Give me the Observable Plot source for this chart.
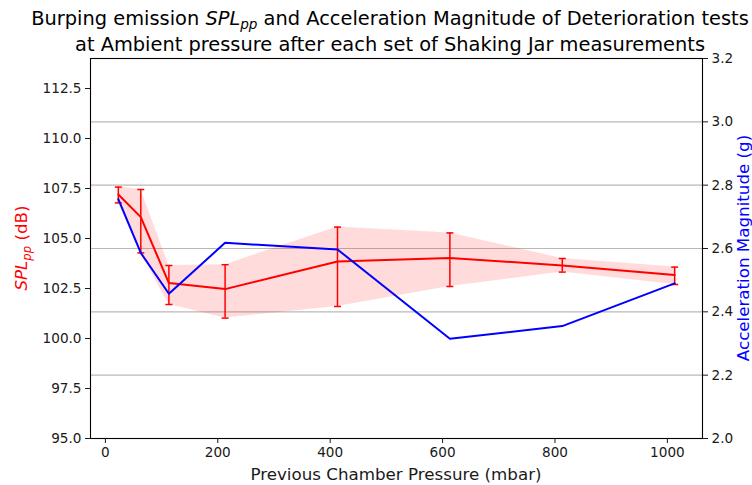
<!DOCTYPE html>
<html><head><meta charset="utf-8">
<script src="https://cdn.jsdelivr.net/npm/d3@7"></script>
<script src="https://cdn.jsdelivr.net/npm/@observablehq/plot@0.6"></script>
<style>body{margin:0;background:#fff;} svg{display:block;}</style>
</head><body><div id="chart"></div>
<script>
// ---- data ----
const pressure  = [23, 63, 113, 213, 413, 613, 813, 1013];
const splMean   = [107.2, 106.07, 102.77, 102.47, 103.85, 104.03, 103.65, 103.17];
const splLower  = [106.78, 104.28, 101.7, 101.02, 101.6, 102.6, 103.32, 102.7];
const splUpper  = [107.57, 107.45, 103.65, 103.69, 105.57, 105.28, 104.0, 103.57];
const accel     = [2.756, 2.586, 2.457, 2.618, 2.597, 2.315, 2.355, 2.49];
const xTicks    = [0, 200, 400, 600, 800, 1000];
const leftTicks = [95, 97.5, 100, 102.5, 105, 107.5, 110, 112.5];
const rightTicks = [2.0, 2.2, 2.4, 2.6, 2.8, 3.0, 3.2];
const leftDomain = [95, 114];
const rightDomain = [2.0, 3.2];
const xDomain = [-26.5, 1062.5];

const toLeft = a => leftDomain[0] + (a - rightDomain[0]) * (leftDomain[1] - leftDomain[0]) / (rightDomain[1] - rightDomain[0]);
const spl = pressure.map((p, i) => ({p, m: splMean[i], lo: splLower[i], hi: splUpper[i]}));
const acc = pressure.map((p, i) => ({p, y: toLeft(accel[i])}));

const capSymbol = {draw(ctx, size) { const w = Math.sqrt(size / Math.PI); ctx.moveTo(-w, 0); ctx.lineTo(w, 0); }};
const font = "'DejaVu Sans', sans-serif";

const W = 752, H = 485, mL = 90, mR = 50, mT = 58, mB = 47;

const chart = Plot.plot({
  width: W, height: H,
  marginLeft: mL, marginRight: mR, marginTop: mT, marginBottom: mB,
  style: {fontFamily: font, fontSize: "13.6px", color: "#1a1a1a", background: "#fff"},
  x: {domain: xDomain},
  y: {domain: leftDomain},
  marks: [
    Plot.ruleY(rightTicks.slice(1, -1), {y: toLeft, stroke: "#b8b8b8", strokeWidth: 1.1}),
    Plot.areaY(spl, {x: "p", y1: "lo", y2: "hi", fill: "red", fillOpacity: 0.14}),
    Plot.ruleX(spl, {x: "p", y1: "lo", y2: "hi", stroke: "red", strokeWidth: 1.5}),
    Plot.dot(spl, {x: "p", y: "lo", symbol: capSymbol, r: 3.5, fill: "none", stroke: "red", strokeWidth: 1.5}),
    Plot.dot(spl, {x: "p", y: "hi", symbol: capSymbol, r: 3.5, fill: "none", stroke: "red", strokeWidth: 1.5}),
    Plot.line(spl, {x: "p", y: "m", stroke: "red", strokeWidth: 2}),
    Plot.line(acc, {x: "p", y: "y", stroke: "blue", strokeWidth: 2}),
    Plot.frame({stroke: "#000", strokeWidth: 1.1}),
    Plot.axisX({ticks: xTicks, tickSize: 5, tickPadding: 4, label: null, tickFormat: d => String(d)}),
    Plot.axisY({anchor: "left", ticks: leftTicks, tickSize: 5, tickPadding: 4, label: null, tickFormat: d => d.toFixed(1)}),
    Plot.axisY(rightTicks, {anchor: "right", y: toLeft, tickSize: 5, tickPadding: 4, label: null, tickFormat: d => d.toFixed(1)})
  ]
});

document.getElementById("chart").append(chart);

// ---- titles and axis labels (real text with italic / subscript) ----
const svg = d3.select(chart);
const cx = mL + (W - mL - mR) / 2;
const cy = mT + (H - mT - mB) / 2;
const tx = 390;

const t = svg.append("text").attr("font-family", font).attr("font-size", 19.4).attr("fill", "#000").attr("text-anchor", "middle");
const l1 = t.append("tspan").attr("x", tx).attr("y", 24.5);
l1.append("tspan").text("Burping emission ");
l1.append("tspan").attr("font-style", "italic").text("SPL");
l1.append("tspan").attr("font-style", "italic").attr("font-size", "0.7em").attr("dy", "0.3em").text("pp");
l1.append("tspan").attr("dy", "-0.21em").text(" and Acceleration Magnitude of Deterioration tests");
t.append("tspan").attr("x", tx).attr("y", 50.5).text("at Ambient pressure after each set of Shaking Jar measurements");

const yl = svg.append("text").attr("font-family", font).attr("font-size", 16.7).attr("fill", "red")
  .attr("text-anchor", "middle").attr("transform", `translate(27,${cy}) rotate(-90)`);
yl.append("tspan").attr("font-style", "italic").text("SPL");
yl.append("tspan").attr("font-style", "italic").attr("font-size", "0.7em").attr("dy", "0.3em").text("pp");
yl.append("tspan").attr("dy", "-0.21em").text(" (dB)");

svg.append("text").attr("font-family", font).attr("font-size", 16.7).attr("fill", "blue")
  .attr("text-anchor", "middle").attr("transform", `translate(748.5,${cy}) rotate(-90)`)
  .text("Acceleration Magnitude (g)");

svg.append("text").attr("font-family", font).attr("font-size", 16.7).attr("fill", "#1a1a1a")
  .attr("text-anchor", "middle").attr("x", cx).attr("y", 479.5)
  .text("Previous Chamber Pressure (mbar)");
</script>
</body></html>
